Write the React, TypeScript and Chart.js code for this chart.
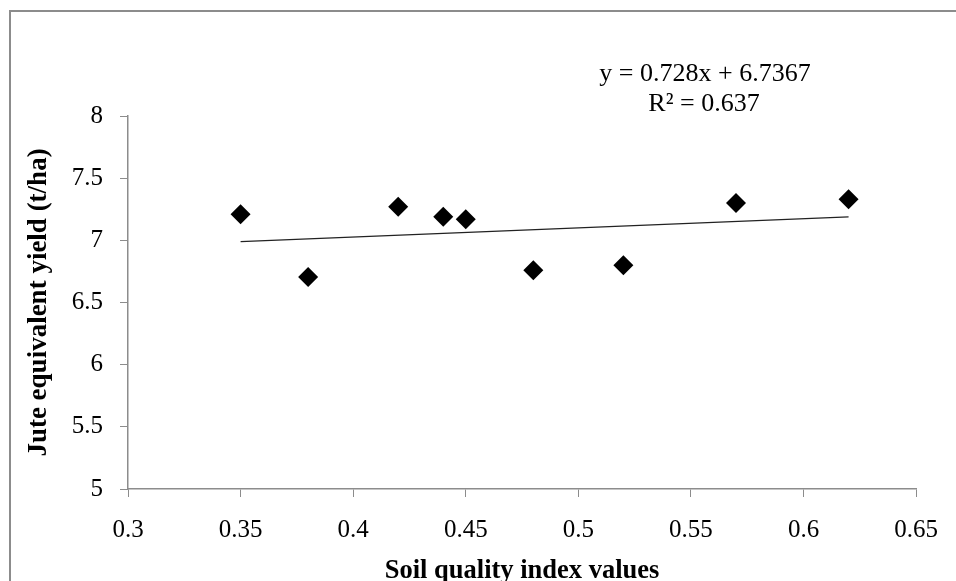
import { useEffect, useRef } from 'react'
import { Chart, registerables } from 'chart.js'

Chart.register(...registerables)

// soil quality index (x) vs jute equivalent yield (t/ha)
const sqiValues = [0.35, 0.38, 0.42, 0.44, 0.45, 0.48, 0.52, 0.57, 0.62]
const yieldValues = [7.21, 6.705, 7.27, 7.19, 7.17, 6.76, 6.8, 7.3, 7.33]

// linear trend line end points
const trendX = [0.35, 0.62]
const trendY = [6.99, 7.188]

const xTicks = [0.3, 0.35, 0.4, 0.45, 0.5, 0.55, 0.6, 0.65]
const xTickLabels = ['0.3', '0.35', '0.4', '0.45', '0.5', '0.55', '0.6', '0.65']
const yTicks = [5, 5.5, 6, 6.5, 7, 7.5, 8]
const yTickLabels = ['5', '5.5', '6', '6.5', '7', '7.5', '8']

const equationText = 'y = 0.728x + 6.7367'
const r2Text = 'R\u00B2 = 0.637'
const xTitle = 'Soil quality index values'
const yTitle = 'Jute equivalent yield (t/ha)'

const SERIF = '"Liberation Serif", "Times New Roman", serif'
const AXIS_GREY = '#8c8c8c'

const decorations = {
  id: 'decorations',
  afterDraw(chart: Chart) {
    const { ctx, chartArea } = chart
    ctx.save()
    // outer frame (only top and left edges are visible)
    ctx.strokeStyle = AXIS_GREY
    ctx.lineWidth = 2
    ctx.beginPath()
    ctx.moveTo(10, 581)
    ctx.lineTo(10, 11)
    ctx.lineTo(956, 11)
    ctx.stroke()

    ctx.fillStyle = '#000'
    ctx.textAlign = 'center'
    ctx.textBaseline = 'alphabetic'

    // regression annotation
    ctx.font = `26px ${SERIF}`
    ctx.fillText(equationText, 705, 81)
    ctx.fillText(r2Text, 704, 111)

    // axis titles
    ctx.font = `bold 26.5px ${SERIF}`
    const cx = (chartArea.left + chartArea.right) / 2
    ctx.fillText(xTitle, cx, 578)

    const cy = (chartArea.top + chartArea.bottom) / 2
    ctx.font = `bold 27px ${SERIF}`
    ctx.translate(46, cy)
    ctx.rotate(-Math.PI / 2)
    ctx.fillText(yTitle, 0, 0)
    ctx.restore()
  },
}

export default function App() {
  const canvasRef = useRef<HTMLCanvasElement>(null)
  const chartRef = useRef<Chart | null>(null)

  useEffect(() => {
    if (!canvasRef.current) return
    chartRef.current?.destroy()

    chartRef.current = new Chart(canvasRef.current, {
      type: 'scatter',
      data: {
        datasets: [
          {
            label: 'Yield',
            data: sqiValues.map((x, i) => ({ x, y: yieldValues[i] })),
            pointStyle: 'rectRot',
            pointRadius: 10,
            pointBackgroundColor: '#000',
            pointBorderColor: '#000',
            pointBorderWidth: 0,
            showLine: false,
          },
          {
            label: 'Linear',
            data: trendX.map((x, i) => ({ x, y: trendY[i] })),
            showLine: true,
            borderColor: '#222',
            borderWidth: 1.3,
            pointRadius: 0,
          },
        ],
      },
      options: {
        responsive: false,
        animation: false,
        layout: { padding: { left: 0, top: 116, right: 39, bottom: 0 } },
        plugins: {
          legend: { display: false },
          tooltip: { enabled: false },
        },
        scales: {
          x: {
            type: 'linear',
            min: 0.3,
            max: 0.65,
            afterBuildTicks: scale => {
              scale.ticks = xTicks.map(value => ({ value }))
            },
            afterFit: scale => {
              scale.height = 92
            },
            grid: { drawOnChartArea: false, tickLength: 8, color: AXIS_GREY },
            border: { color: AXIS_GREY, width: 1.5 },
            ticks: {
              color: '#000',
              padding: 18,
              maxRotation: 0,
              font: { family: SERIF, size: 25 },
              callback: (_v, i) => xTickLabels[i],
            },
          },
          y: {
            type: 'linear',
            min: 5,
            max: 8,
            afterBuildTicks: scale => {
              scale.ticks = yTicks.map(value => ({ value }))
            },
            afterFit: scale => {
              scale.width = 128
            },
            grid: { drawOnChartArea: false, tickLength: 8, color: AXIS_GREY },
            border: { color: AXIS_GREY, width: 1.5 },
            ticks: {
              color: '#000',
              padding: 17,
              font: { family: SERIF, size: 25 },
              callback: (_v, i) => yTickLabels[i],
            },
          },
        },
      },
      plugins: [decorations],
    })

    return () => chartRef.current?.destroy()
  }, [])

  return (
    <div style={{ position: 'fixed', left: 0, top: 0, width: 956, height: 581, background: '#fff' }}>
      <canvas ref={canvasRef} width={956} height={581} />
    </div>
  )
}
